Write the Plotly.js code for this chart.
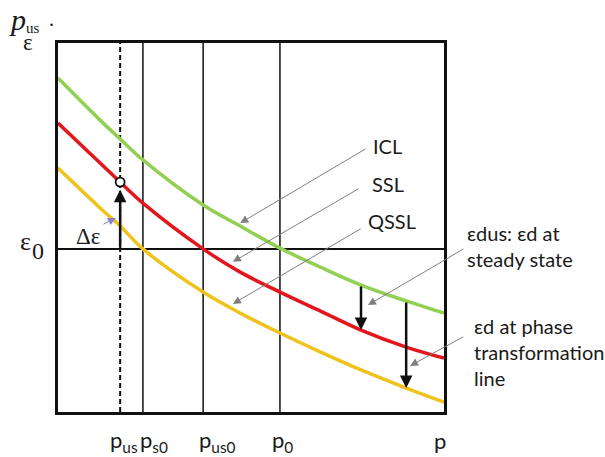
<!DOCTYPE html>
<html>
<head>
<meta charset="utf-8">
<script src="https://cdn.plot.ly/plotly-3.0.1.min.js"></script>
<style>html,body{margin:0;padding:0;background:#fff;}#chart{width:605px;height:457px;}</style>
</head>
<body>
<div id="chart"></div>
<script>
// ---- data (schematic units) ----
const pSample = [0, 1.09, 1.61, 2.20, 3.76, 4.72, 5.75, 6.79, 7.85, 9.02, 10];
const iclVals  = [9.05, 7.91, 7.40, 6.83, 5.61, 5.04, 4.44, 3.93, 3.44, 3.01, 2.68];
const sslVals  = [7.83, 6.75, 6.23, 5.66, 4.42, 3.79, 3.25, 2.74, 2.22, 1.76, 1.46];
const qsslVals = [6.61, 5.53, 5.04, 4.42, 3.25, 2.68, 2.14, 1.63, 1.14, 0.65, 0.27];
const curveNames = ['ICL', 'SSL', 'QSSL'];

const pLineNames = ['p_us', 'p_s0', 'p_us0', 'p_0'];
const pLineVals  = [1.61, 2.20, 3.76, 5.75];
const eps0 = 4.42;
const tickLabels = ['p<sub>us</sub>', 'p<sub>s0</sub>', 'p<sub>us0</sub>', 'p<sub>0</sub>', 'p'];

const deltaEpsTop = 6.02;                 // arrow tip under the circle
const dArrowP   = [7.85, 9.02];            // vertical arrows on the right
const dArrowTop = [3.44, 3.01];            // start (on ICL)
const dArrowBot = [2.22, 0.65];            // end (SSL / QSSL)

// ---- layout helpers ----
const SANS = 'Lato, "Open Sans", sans-serif';
const SERIF = '"Liberation Serif", "DejaVu Serif", serif';
const colors = ['#92cf52', '#e3161d', '#f0c21c'];
const curves = [iclVals, sslVals, qsslVals];

const traces = curves.map((vals, i) => ({
  x: pSample, y: vals, name: curveNames[i], type: 'scatter', mode: 'lines',
  line: {color: colors[i], width: 3.5, shape: 'spline', smoothing: 1},
  hoverinfo: 'skip'
}));
// open circle at p_us on SSL
traces.push({
  x: [pLineVals[0]], y: [sslVals[2]], type: 'scatter', mode: 'markers',
  marker: {symbol: 'circle', size: 9, color: '#fff', line: {color: '#111', width: 1.8}},
  hoverinfo: 'skip', cliponaxis: false
});

const shapes = [];
pLineVals.forEach((v, i) => {
  shapes.push({type: 'line', xref: 'x', yref: 'paper', x0: v, x1: v, y0: 0, y1: 1,
    line: {color: '#111', width: i === 0 ? 2 : 1.5, dash: i === 0 ? '5px,3px' : 'solid'}, layer: 'below'});
});
shapes.push({type: 'line', xref: 'paper', yref: 'y', x0: 0, x1: 1, y0: eps0, y1: eps0,
  line: {color: '#111', width: 2}, layer: 'below'});

// convert pixel coords to paper coords: plot area x 58..444, y 43..412
const px = v => (v - 58) / 386;
const py = v => (412 - v) / 369;

const ann = [];
// bottom labels
const labelX = [1.30, 2.07, 3.60, 5.49, 9.69];
tickLabels.forEach((t, i) => {
  ann.push({text: t, x: labelX[i], xref: 'x', y: -0.078, yref: 'paper', xanchor: 'left', yanchor: 'middle',
    showarrow: false, font: {family: SANS, size: 22, color: '#1a1a1a'}});
});

function grayArrow(tx, ty, ax, ay, col) {
  ann.push({text: '', x: tx, y: ty, xref: 'x', yref: 'y', ax: ax, ay: ay, axref: 'x', ayref: 'y',
    showarrow: true, arrowhead: 2, arrowsize: 1.6, arrowwidth: 1, arrowcolor: col || '#7f7f7f', standoff: 0});
}
grayArrow(4.72, 5.12, 8.00, 7.15);
grayArrow(4.53, 4.07, 7.82, 6.07);
grayArrow(4.53, 2.93, 7.88, 4.99);
grayArrow(8.03, 2.90, 10.54, 4.44);
grayArrow(9.12, 1.25, 10.54, 2.06);
grayArrow(1.50, 5.26, 1.14, 5.07, '#8a7fd0');

function blackArrow(x, y0, y1) {
  ann.push({text: '', x: x, y: y1, xref: 'x', yref: 'y', ax: x, ay: y0, axref: 'x', ayref: 'y',
    showarrow: true, arrowhead: 2, arrowsize: 1, arrowwidth: 2.5, arrowcolor: '#111', standoff: 0});
}
blackArrow(pLineVals[0], eps0, deltaEpsTop);
dArrowP.forEach((p, i) => blackArrow(p, dArrowTop[i], dArrowBot[i]));

const sansFont = {family: SANS, size: 20, color: '#1a1a1a'};
const textAnn = [
  {text: 'ICL', x: 8.12, y: 7.20},
  {text: 'SSL', x: 8.09, y: 6.17},
  {text: 'QSSL', x: 7.98, y: 5.17},
];
textAnn.forEach(t => ann.push({text: t.text, x: t.x, y: t.y, xref: 'x', yref: 'y', xanchor: 'left', yanchor: 'middle',
  showarrow: false, font: sansFont}));
ann.push({text: 'εdus: εd at<br>steady state', x: px(465), y: py(246), xref: 'paper', yref: 'paper',
  xanchor: 'left', yanchor: 'middle', align: 'left', showarrow: false, font: sansFont});
ann.push({text: 'εd at phase<br>transformation<br>line', x: px(472), y: py(352), xref: 'paper', yref: 'paper',
  xanchor: 'left', yanchor: 'middle', align: 'left', showarrow: false, font: sansFont});

const serif = (t, x, y, size) => ({text: t, x: x, y: y, xref: 'paper', yref: 'paper',
  xanchor: 'center', yanchor: 'middle', showarrow: false, font: {family: SERIF, size: size, color: '#1a1a1a'}});
ann.push(serif('Δε', px(88), py(236), 23));
ann.push(serif('ε', px(27.5), py(42), 23));
ann.push(serif('ε', px(25.5), py(242), 26));
ann.push(serif('0', px(38), py(251), 24));
ann.push(serif('<i>p</i>', px(17), py(19), 30));
ann.push(serif('us', px(33), py(28), 15));
ann.push(serif('.', px(51), py(19), 20));

const layout = {
  width: 605, height: 457,
  margin: {l: 58, r: 161, t: 43, b: 45, pad: 0},
  paper_bgcolor: '#fff', plot_bgcolor: '#fff',
  showlegend: false,
  xaxis: {range: [0, 10], showgrid: false, zeroline: false, showticklabels: false, ticks: '',
    showline: true, mirror: true, linecolor: '#111', linewidth: 3, fixedrange: true},
  yaxis: {range: [0, 10], showgrid: false, zeroline: false, showticklabels: false, ticks: '',
    showline: true, mirror: true, linecolor: '#111', linewidth: 3, fixedrange: true},
  shapes: shapes,
  annotations: ann
};
Plotly.newPlot('chart', traces, layout, {displayModeBar: false, staticPlot: true});
</script>
</body>
</html>
